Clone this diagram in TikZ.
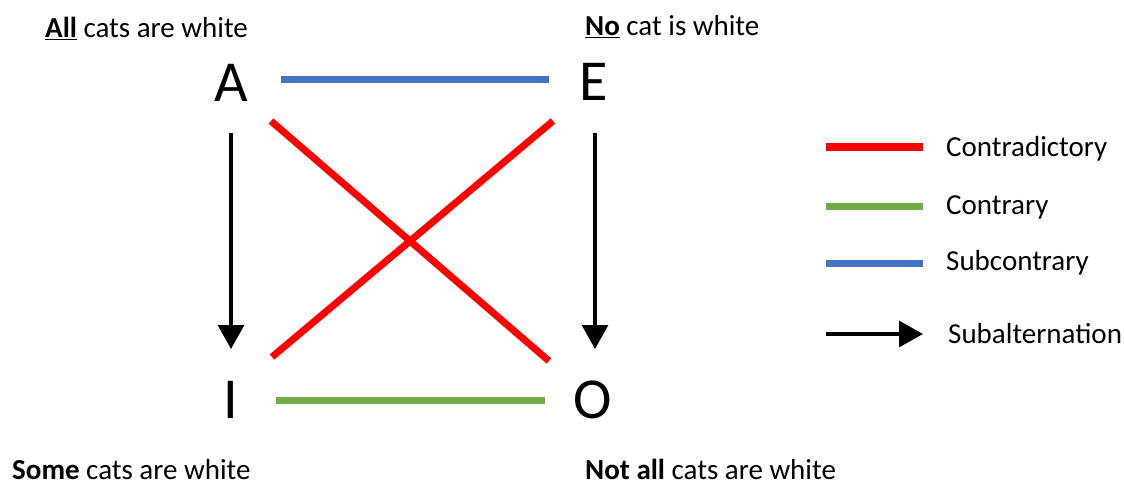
\documentclass[tikz,border=0pt]{standalone}
\usepackage{fontspec}
\setmainfont{Carlito}
\usetikzlibrary{arrows.meta}
\definecolor{cred}{RGB}{255,0,0}
\definecolor{cgreen}{RGB}{112,173,71}
\definecolor{cblue}{RGB}{68,114,196}
\begin{document}
\begin{tikzpicture}[x=1pt,y=-1pt,
  big/.style={font=\fontsize{58}{60}\selectfont, inner sep=0pt, anchor=base},
  lbl/.style={font=\fontsize{29}{32}\selectfont, inner sep=0pt, anchor=base west},
  redline/.style={draw=cred, line width=7pt},
  greenline/.style={draw=cgreen, line width=7pt},
  blueline/.style={draw=cblue, line width=7pt},
  subalt/.style={draw=black, line width=3.2pt, -{Triangle[length=24pt,width=26pt]}}]
\useasboundingbox (0,0) rectangle (1124,484);
% big letters
\node[big] (A) at (231.5,102) {A};
\node[big] (E) at (594,101) {E};
\node[big] (I) at (231,418) {I};
\node[big] (O) at (593,418) {O};
% statements
\node[lbl] (tA) at (45,38) {\textbf{\underline{All}} cats are white};
\node[lbl] (tE) at (585,36) {\textbf{\underline{No}} cat is white};
\node[lbl] (tI) at (12,479) {\textbf{Some} cats are white};
\node[lbl] (tO) at (585,479) {\textbf{Not all} cats are white};
% connector endpoints
\coordinate (ab1) at (281,80);
\coordinate (ab2) at (549,80);
\coordinate (io1) at (276,400);
\coordinate (io2) at (545,400);
\coordinate (ao1) at (271,121);
\coordinate (ao2) at (549,361);
\coordinate (ei1) at (553,121);
\coordinate (ei2) at (272,357);
\coordinate (ai1) at (231,133);
\coordinate (ai2) at (231,349);
\coordinate (eo1) at (595,133);
\coordinate (eo2) at (595,349);
% connectors
\draw[blueline] (ab1) -- (ab2);
\draw[greenline] (io1) -- (io2);
\draw[redline] (ao1) -- (ao2);
\draw[redline] (ei1) -- (ei2);
\draw[subalt] (ai1) -- (ai2);
\draw[subalt] (eo1) -- (eo2);
% legend
\coordinate (lr1) at (826,147); \coordinate (lr2) at (923,147);
\coordinate (lg1) at (826,206); \coordinate (lg2) at (923,206);
\coordinate (lb1) at (826,263); \coordinate (lb2) at (923,263);
\coordinate (la1) at (826,334); \coordinate (la2) at (923,334);
\draw[redline] (lr1) -- (lr2);
\draw[greenline] (lg1) -- (lg2);
\draw[blueline] (lb1) -- (lb2);
\draw[subalt] (la1) -- (la2);
\node[lbl] (l1) at (946,157) {Contradictory};
\node[lbl] (l2) at (946,214) {Contrary};
\node[lbl] (l3) at (946,270) {Subcontrary};
\node[lbl] (l4) at (948,343) {Subalternation};
\end{tikzpicture}
\end{document}
